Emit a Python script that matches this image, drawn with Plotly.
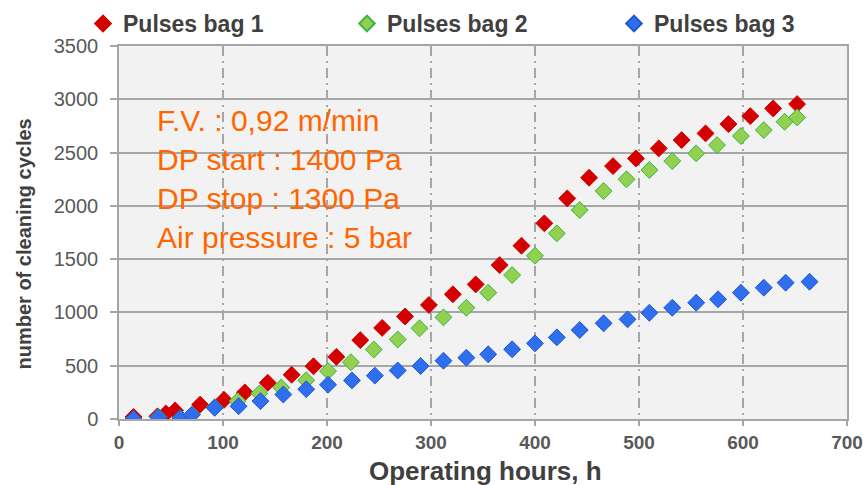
import plotly.graph_objects as go

# ---------------- data ----------------
bag1_hours = [14, 37, 45, 54, 78, 101, 121, 143, 166, 187, 209, 232, 253, 275, 298,
              321, 343, 366, 387, 409, 431, 452, 475, 497, 519, 541, 564, 586, 607, 629, 652]
bag1_cycles = [20, 25, 52, 80, 135, 180, 250, 340, 415, 495, 583, 740, 855, 962, 1070,
               1170, 1263, 1444, 1626, 1836, 2070, 2264, 2373, 2445, 2539, 2617, 2680, 2767, 2842, 2914, 2955]

bag2_hours = [14, 38, 59, 70, 92, 114, 135, 156, 180, 201, 223, 245, 268, 289,
              312, 334, 355, 378, 400, 421, 443, 466, 488, 510, 532, 555, 575, 598, 620, 640, 652]
bag2_cycles = [0, 20, 10, 40, 110, 168, 240, 295, 363, 449, 533, 652, 746, 851,
               954, 1044, 1185, 1351, 1532, 1742, 1961, 2139, 2249, 2336, 2420, 2492, 2570, 2655, 2711, 2789, 2830]

bag3_hours = [14, 38, 59, 70, 92, 115, 136, 158, 180, 201, 224, 246, 268, 290,
              312, 334, 355, 378, 400, 421, 443, 466, 489, 510, 532, 555, 576, 598, 620, 641, 664]
bag3_cycles = [0, 15, 10, 40, 105, 120, 168, 230, 280, 321, 362, 407, 455, 497,
               547, 575, 607, 654, 710, 766, 835, 898, 935, 997, 1044, 1091, 1123, 1185, 1232, 1279, 1288]

series_names = ["Pulses bag 1", "Pulses bag 2", "Pulses bag 3"]
x_ticks = [0, 100, 200, 300, 400, 500, 600, 700]
y_ticks = [0, 500, 1000, 1500, 2000, 2500, 3000, 3500]
info_lines = ["F.V. : 0,92 m/min", "DP start : 1400 Pa", "DP stop : 1300 Pa", "Air pressure : 5 bar"]
x_title = "Operating hours, h"
y_title = "number of cleaning cycles"

# ---------------- figure ----------------
FONT = "Arial, Liberation Sans, sans-serif"
W, H = 866, 485
ML, MR, MT, MB = 119, 19, 46, 66
PW, PH = W - ML - MR, H - MT - MB

fills = ["#d40000", "#92d050", "#2f6fef"]
lines = ["#d40000", "#3cb44a", "#1f58d0"]
legend_ids = ["legend", "legend2", "legend3"]
legend_left_px = [83, 347, 614]

fig = go.Figure()
for name, xs, ys, fc, lc, lid in zip(series_names,
                                     [bag1_hours, bag2_hours, bag3_hours],
                                     [bag1_cycles, bag2_cycles, bag3_cycles],
                                     fills, lines, legend_ids):
    fig.add_trace(go.Scatter(
        x=xs, y=ys, mode="markers", name=name, legend=lid,
        marker=dict(symbol="diamond", size=13, color=fc,
                    line=dict(color=lc, width=1)),
    ))

def px_x(p):
    return (p - ML) / PW

def px_y(p):
    return (H - MB - p) / PH

def legend_box(left_px):
    return dict(
        orientation="h",
        xref="container", yref="container",
        x=left_px / W, xanchor="left",
        y=1 - 2 / H, yanchor="top",
        font=dict(family=FONT, size=23, color="#404040", weight="bold"),
        bgcolor="rgba(0,0,0,0)",
        itemsizing="constant",
        borderwidth=0,
    )

layout_legends = {lid: legend_box(lx) for lid, lx in zip(legend_ids, legend_left_px)}

fig.update_layout(
    width=W, height=H,
    margin=dict(l=ML, r=MR, t=MT, b=MB, pad=0, autoexpand=False),
    paper_bgcolor="white",
    plot_bgcolor="#f2f2f2",
    font=dict(family=FONT, color="#404040"),
    showlegend=True,
    **layout_legends,
    xaxis=dict(
        range=[0, 700], tickvals=x_ticks, ticktext=[str(v) for v in x_ticks],
        showgrid=True, gridcolor="#a6a6a6", gridwidth=1.5, griddash="10px,5px,2px,5px",
        showline=True, linecolor="#a6a6a6", linewidth=1.5, mirror=True,
        ticks="outside", ticklen=5, tickcolor="#a6a6a6", tickwidth=1.5,
        tickfont=dict(family=FONT, size=19, color="#595959", weight="bold"),
        zeroline=False, fixedrange=True,
    ),
    yaxis=dict(
        range=[0, 3500], tickvals=y_ticks, ticktext=[str(v) for v in y_ticks],
        showgrid=True, gridcolor="#a6a6a6", gridwidth=1.5,
        showline=True, linecolor="#a6a6a6", linewidth=1.5, mirror=True,
        ticks="outside", ticklen=7, tickcolor="#a6a6a6", tickwidth=1.5,
        tickfont=dict(family=FONT, size=20, color="#595959"),
        ticklabelstandoff=8,
        zeroline=False, fixedrange=True,
    ),
    annotations=[
        dict(text="<br>".join(info_lines), xref="paper", yref="paper",
             x=px_x(155), y=px_y(179), xanchor="left", yanchor="middle",
             align="left", showarrow=False,
             font=dict(family=FONT, size=30, color="#ff6600")),
        dict(text=x_title, xref="paper", yref="paper",
             x=px_x(485), y=px_y(471), xanchor="center", yanchor="middle",
             showarrow=False,
             font=dict(family=FONT, size=26, color="#404040", weight="bold")),
        dict(text=y_title, xref="paper", yref="paper", textangle=-90,
             x=px_x(23), y=px_y(244.5), xanchor="center", yanchor="middle",
             showarrow=False,
             font=dict(family=FONT, size=20, color="#404040", weight="bold")),
    ],
)

fig.write_html("out.html")
